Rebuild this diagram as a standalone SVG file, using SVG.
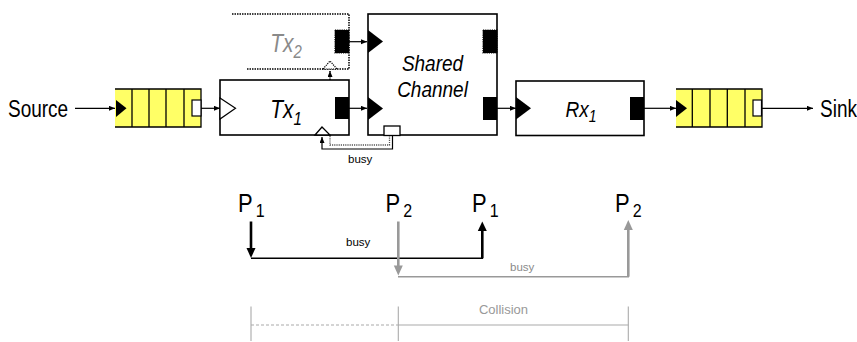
<svg xmlns="http://www.w3.org/2000/svg" width="857" height="342" viewBox="0 0 857 342">
<style>
text{font-family:"Liberation Sans",Arial,Helvetica,sans-serif;}
.box{fill:#fff;stroke:#000;stroke-width:1.6;}
.port{fill:#000;stroke:none;}
.dotport{fill:#000;stroke:#000;stroke-width:1.2;stroke-dasharray:1.2 1;}
.q{fill:#ffff66;stroke:none;}
.qline{stroke:#000;stroke-width:1.3;fill:none;}
.conn{stroke:#000;stroke-width:1.2;fill:none;}
.dot{stroke:#000;stroke-width:1.5;stroke-dasharray:1.5 1;fill:none;}
.dotg{stroke:#555;stroke-width:1.3;stroke-dasharray:1.2 1;fill:none;}
.tl{stroke:#000;stroke-width:1.5;fill:none;}
.tlg{stroke:#999;stroke-width:1.5;fill:none;}
.sc{stroke:#aaa;stroke-width:1.1;fill:none;}
</style>
<defs>
<marker id="ah" markerUnits="userSpaceOnUse" markerWidth="7" markerHeight="6" refX="6" refY="2.5" orient="auto">
<path d="M0,0 L6,2.5 L0,5 z" fill="#000"/>
</marker>
</defs>

<g id="source"><text transform="translate(8,117) scale(1,1.22)" font-size="19">Source</text></g>

<g id="queue1">
<rect class="q" x="115" y="89" width="86" height="38"/>
<path class="qline" d="M115,89 H201 V127 H115 M132,89 V127 M149,89 V127 M166,89 V127 M184,89 V127"/>
<polygon points="116,100 126.5,108.3 116,117" fill="#000"/>
<rect x="192" y="100" width="9" height="16" fill="#fff" stroke="#000" stroke-width="1.2"/>
</g>

<g id="tx2">
<path class="dot" d="M232,14 H349 V69 H246"/>
<rect class="dotport" x="335" y="30" width="14" height="23"/>
<polygon points="323,69 330,61 337,69" fill="#fff" stroke="#000" stroke-width="1.2" stroke-dasharray="1.2 1"/>
<text transform="translate(286,52) scale(1,1.2)" text-anchor="middle" font-size="21" font-style="italic" fill="#8a8a8a">Tx<tspan font-size="15" dy="5">2</tspan></text>
</g>

<g id="tx1">
<rect class="box" x="220" y="80" width="129" height="55"/>
<polygon points="220,98 235.5,108.3 220,119" fill="#fff" stroke="#000" stroke-width="1.2"/>
<rect class="port" x="335" y="97" width="14" height="22"/>
<polygon points="315,135 322,127 330,135" fill="#fff" stroke="#000" stroke-width="1.3"/>
<text transform="translate(286,118) scale(1,1.2)" text-anchor="middle" font-size="21" font-style="italic">Tx<tspan font-size="15" dy="5.5">1</tspan></text>
</g>

<g id="channel">
<rect class="box" x="368" y="14" width="129" height="121"/>
<polygon points="368,30 383,41.5 368,53" fill="#000"/>
<polygon points="368,97 383,108.5 368,120" fill="#000"/>
<rect class="dotport" x="483" y="30" width="14" height="23"/>
<rect class="port" x="483" y="97" width="14" height="23"/>
<rect x="384" y="126" width="16" height="9.5" fill="#fff" stroke="#000" stroke-width="1.3"/>
<text transform="translate(432.5,70.5) scale(1,1.2)" text-anchor="middle" font-size="19" font-style="italic">Shared</text>
<text transform="translate(432.5,96.5) scale(1,1.2)" text-anchor="middle" font-size="19" font-style="italic">Channel</text>
</g>

<g id="rx1">
<rect class="box" x="516" y="81" width="128" height="54.5"/>
<polygon points="516,97 531,108.3 516,119.5" fill="#000"/>
<rect class="port" x="630" y="97" width="14" height="23"/>
<text transform="translate(581,116.7) scale(1,1.2)" text-anchor="middle" font-size="19" font-style="italic">Rx<tspan font-size="14" dy="4">1</tspan></text>
</g>

<g id="queue2">
<rect class="q" x="676" y="89" width="86" height="38"/>
<path class="qline" d="M676,89 H762 V127 H676 M692.3,89 V127 M710,89 V127 M727.3,89 V127 M745,89 V127"/>
<polygon points="676,100 687,108.3 676,117" fill="#000"/>
<rect x="753" y="100" width="8.5" height="16" fill="#fff" stroke="#000" stroke-width="1.2"/>
</g>

<g id="sink"><text transform="translate(820,116.5) scale(1,1.22)" font-size="19">Sink</text></g>

<g id="connectors">
<line class="conn" x1="75" y1="108.3" x2="115" y2="108.3" marker-end="url(#ah)"/>
<line class="conn" x1="201" y1="108.3" x2="220" y2="108.3" marker-end="url(#ah)"/>
<line class="conn" x1="349" y1="108.3" x2="367" y2="108.3" marker-end="url(#ah)"/>
<line class="conn" x1="349" y1="41.7" x2="367" y2="41.7" marker-end="url(#ah)"/>
<line class="conn" x1="497" y1="108.3" x2="516" y2="108.3" marker-end="url(#ah)"/>
<line class="conn" x1="644" y1="108.3" x2="676" y2="108.3" marker-end="url(#ah)"/>
<line class="conn" x1="762" y1="108.3" x2="813" y2="108.3" marker-end="url(#ah)"/>
<path class="dot" d="M330,80 V71" marker-end="url(#ah)"/>
<path class="dotg" d="M330,136 V145 H389.5 V136"/>
<path class="conn" d="M392.5,135.5 V149 H322 V137" marker-end="url(#ah)"/>
<text x="348" y="163" font-size="11.5">busy</text>
</g>

<g id="timeline">
<text transform="translate(238,211.7) scale(1,1.2)" font-size="22">P<tspan font-size="16" dy="4.5" dx="3">1</tspan></text>
<text transform="translate(385.5,211.7) scale(1,1.2)" font-size="22">P<tspan font-size="16" dy="4.5" dx="3">2</tspan></text>
<text transform="translate(472,211.7) scale(1,1.2)" font-size="22">P<tspan font-size="16" dy="4.5" dx="3">1</tspan></text>
<text transform="translate(615,211.7) scale(1,1.2)" font-size="22">P<tspan font-size="16" dy="4.5" dx="3">2</tspan></text>

<line x1="251" y1="221.5" x2="251" y2="249" stroke="#000" stroke-width="2.6"/>
<polygon points="246.5,248 255.5,248 251,258" fill="#000"/>
<line class="tl" x1="251" y1="258.3" x2="483" y2="258.3"/>
<line x1="482.3" y1="258.3" x2="482.3" y2="230" stroke="#000" stroke-width="2.6"/>
<polygon points="477.8,231 486.8,231 482.3,221.5" fill="#000"/>
<text x="346" y="245.7" font-size="11.5">busy</text>

<line x1="398.3" y1="221.5" x2="398.3" y2="266" stroke="#999" stroke-width="2.6"/>
<polygon points="393.8,265.5 402.8,265.5 398.3,275.5" fill="#999"/>
<line class="tlg" x1="398" y1="276.7" x2="629" y2="276.7"/>
<line x1="628.3" y1="276.7" x2="628.3" y2="229" stroke="#999" stroke-width="2.6"/>
<polygon points="623.8,230 632.8,230 628.3,220" fill="#999"/>
<text x="510" y="270.7" font-size="11.5" fill="#8a8a8a">busy</text>

<line class="sc" x1="251" y1="306.5" x2="251" y2="341"/>
<line class="sc" x1="398.3" y1="306.5" x2="398.3" y2="341"/>
<line class="sc" x1="628.3" y1="306.5" x2="628.3" y2="341"/>
<line class="sc" x1="251" y1="325" x2="398.3" y2="325" stroke-dasharray="3 2"/>
<line class="sc" x1="398.3" y1="325" x2="628.3" y2="325"/>
<text x="503.5" y="314" font-size="13" fill="#999" text-anchor="middle">Collision</text>
</g>
</svg>
